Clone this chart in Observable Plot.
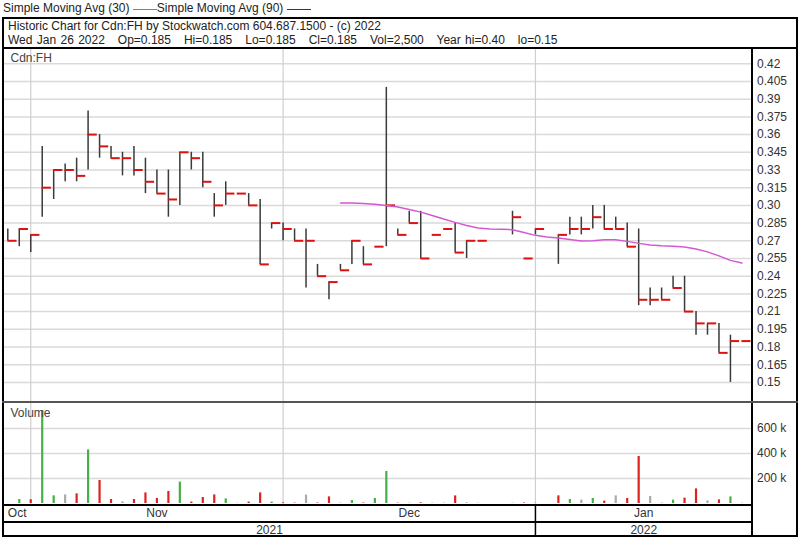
<!DOCTYPE html>
<html><head><meta charset="utf-8">
<script src="https://cdn.jsdelivr.net/npm/d3@7"></script>
<script src="https://cdn.jsdelivr.net/npm/@observablehq/plot@0.6"></script>
<style>
body{margin:0;background:#fff;font-family:"Liberation Sans",Arial,sans-serif;}
#wrap{position:relative;width:800px;height:541px;overflow:hidden;background:#fff;}
.hl{position:absolute;background:#000;}
.txt{position:absolute;font-size:12px;color:#222;white-space:pre;line-height:12px;}
.panel{position:absolute;left:0;}
.panel svg{display:block;}
</style></head><body>
<div id="wrap">
  <div class="txt" style="left:3px;top:2px;">Simple Moving Avg (30) <span style="display:inline-block;width:24px;height:0;border-top:1px solid #e040e0;vertical-align:2px;"></span>Simple Moving Avg (90) <span style="display:inline-block;width:24px;height:0;border-top:1px solid #2323c8;vertical-align:2px;"></span></div>
  <div class="txt" style="left:8px;top:20px;">Historic Chart for Cdn:FH by Stockwatch.com 604.687.1500 - (c) 2022</div>
  <div class="txt" style="left:8px;top:34px;word-spacing:1px;">Wed Jan 26 2022   Op=0.185   Hi=0.185   Lo=0.185   Cl=0.185   Vol=2,500   Year hi=0.40   lo=0.15</div>
  <div id="price" class="panel" style="top:47px;"></div>
  <div id="volume" class="panel" style="top:402px;"></div>
  <div id="timeline" class="panel" style="top:505px;"></div>
  <!-- frame -->
  <div style="position:absolute;left:2px;top:17px;width:796px;height:520px;border:2px solid #000;box-sizing:border-box;"></div>
  <div class="hl" style="left:2px;top:46.5px;width:796px;height:2px;"></div>
  <div class="hl" style="left:750.7px;top:47px;width:2px;height:490px;"></div>
  <div class="hl" style="left:2px;top:400.5px;width:796px;height:2.5px;background:#555;"></div>
  <div class="hl" style="left:2px;top:504.3px;width:750px;height:2px;"></div>
  <div class="hl" style="left:2px;top:520.7px;width:750px;height:2px;"></div>
</div>
<script>
// ---- data (one slot per trading day, Oct 28 2021 .. Jan 26 2022; null = no trade) ----
const highs = [0.28,0.28,0.275,0.35,0.33,0.335,0.34,0.38,0.36,0.35,
  0.345,0.35,0.34,0.33,0.33,0.345,0.345,0.345,0.31,0.32,
  0.31,0.31,0.305,0.285,0.285,0.28,0.28,0.25,0.235,0.25,
  0.27,0.265,0.265,0.40,0.28,0.295,0.295,0.275,0.28,0.285,
  0.27,0.27,null,null,0.295,0.255,0.28,null,0.275,0.29,
  0.29,0.30,0.30,0.29,0.285,0.28,0.23,0.23,0.24,0.24,
  0.21,0.20,0.20,0.19,0.185];
const lows = [0.27,0.265,0.26,0.29,0.305,0.32,0.32,0.33,0.34,0.34,
  0.325,0.325,0.31,0.31,0.29,0.30,0.33,0.315,0.29,0.30,
  0.31,0.30,0.25,0.28,0.27,0.27,0.23,0.24,0.22,0.245,
  0.25,0.25,0.265,0.265,0.275,0.285,0.255,0.275,0.28,0.26,
  0.255,0.27,null,null,0.275,0.255,0.275,null,0.25,0.275,
  0.275,0.28,0.28,0.28,0.265,0.215,0.215,0.22,0.23,0.21,
  0.19,0.19,0.175,0.15,0.185];
const closes = [0.27,0.28,0.275,0.315,0.33,0.33,0.325,0.36,0.35,0.34,
  0.34,0.33,0.32,0.31,0.305,0.345,0.34,0.32,0.30,0.31,
  0.31,0.30,0.25,0.285,0.28,0.27,0.27,0.24,0.235,0.245,
  0.27,0.25,0.265,0.30,0.275,0.285,0.255,0.275,0.28,0.26,
  0.27,0.27,null,null,0.29,0.255,0.28,null,0.275,0.28,
  0.28,0.29,0.28,0.28,0.265,0.22,0.22,0.22,0.23,0.21,
  0.20,0.20,0.175,0.185,0.185];
const volumes = [2000,32000,30000,744000,61000,69000,77000,429000,184000,32000,
  13000,32000,85000,40000,96000,171000,11000,48000,69000,37000,
  2000,11000,85000,11000,5000,3000,67000,4000,53000,2000,
  24000,4000,40000,256000,3000,2000,5000,2000,2000,61000,
  4000,2000,null,null,2000,4000,2000,null,61000,32000,
  27000,40000,19000,61000,40000,376000,56000,4000,27000,43000,
  117000,21000,29000,53000,2500];
// Simple moving average (30), from slot 29 to slot 64
const maStart = 29;
const ma30 = [0.302,0.302,0.3015,0.301,0.300,0.2987,0.2966,0.2943,0.2915,0.2885,
  0.2856,0.283,0.2809,0.280,0.2797,0.2794,0.2771,0.2746,0.2733,0.2723,
  0.271,0.2698,0.270,0.2708,0.2708,0.2695,0.2678,0.2665,0.2657,0.2653,
  0.2647,0.2631,0.2606,0.2572,0.2534,0.2511];
const priceTicks = [0.42,0.405,0.39,0.375,0.36,0.345,0.33,0.315,0.30,0.285,0.27,0.255,0.24,0.225,0.21,0.195,0.18,0.165,0.15];
const priceLabels = ["0.42","0.405","0.39","0.375","0.36","0.345","0.33","0.315","0.30","0.285","0.27","0.255","0.24","0.225","0.21","0.195","0.18","0.165","0.15"];
const volTicks = [600000,400000,200000];
const volLabels = ["600 k","400 k","200 k"];
const monthNames = ["Oct","Nov","Dec","Jan"];
const monthFirstSlot = [null,2,24,46];
const yearNames = ["2021","2022"];
const yearFirstSlot = [null,46];

// ---- build tables ----
const xDomain = [-0.375, 64.88];
const bars = [];
highs.forEach((h,i)=>{ if(h!=null) bars.push({i, hi:h, lo:lows[i], c:closes[i]}); });
const maData = ma30.map((v,k)=>({i:maStart+k, v}));
const priceAxis = priceTicks.map((v,k)=>({v, label:priceLabels[k]}));
const volAxis = volTicks.map((v,k)=>({v, label:volLabels[k]}));
const volBars = [];
let prev = null;
volumes.forEach((v,i)=>{
  if(v==null) return;
  const c = closes[i];
  const dir = prev==null ? 0 : (c>prev ? 1 : c<prev ? -1 : 0);
  volBars.push({i, v, dir});
  prev = c;
});
const bounds = monthFirstSlot.filter(d=>d!=null);
function spans(names, firsts){
  return names.map((n,k)=>{
    const a = firsts[k]==null ? xDomain[0] : firsts[k];
    const b = k+1<firsts.length ? firsts[k+1] : xDomain[1];
    return {label:n, mid:(a+b)/2};
  });
}
const monthSpans = spans(monthNames, monthFirstSlot);
const yearSpans = spans(yearNames, yearFirstSlot);
const baseStyle = {background:"transparent", fontFamily:"'Liberation Sans', Arial, sans-serif", fontSize:"12px", overflow:"visible"};
const common = {width:800, marginLeft:3, marginRight:48.5, marginTop:0, marginBottom:0, style:baseStyle};

const price = Plot.plot({
  ...common, height:354,
  x:{domain:xDomain, axis:null},
  y:{domain:[0.1338,0.4338], axis:null},
  marks:[
    Plot.ruleY(priceTicks,{stroke:"#dadada", strokeWidth:1.5}),
    Plot.ruleX(bounds,{stroke:"#cfcfcf", strokeWidth:1.2}),
    Plot.ruleX(bars,{x:"i", y1:"lo", y2:"hi", stroke:"#3a3a3a", strokeWidth:1.5}),
    Plot.ruleY(bars,{y:"c", x1:"i", x2:d=>d.i+0.8, stroke:"#dd1111", strokeWidth:2}),
    Plot.line(maData,{x:"i", y:"v", stroke:"#d458d4", strokeWidth:1.5}),
    Plot.text(priceAxis,{y:"v", text:"label", frameAnchor:"right", textAnchor:"start", dx:5, fill:"#333"}),
    Plot.text(["Cdn:FH"],{frameAnchor:"top-left", textAnchor:"start", lineAnchor:"middle", dx:7, dy:10.5, fill:"#444"})
  ]
});
document.getElementById("price").appendChild(price);

const volume = Plot.plot({
  ...common, height:103,
  x:{domain:xDomain, axis:null},
  y:{domain:[-16000,808000], axis:null},
  marks:[
    Plot.ruleY(volTicks,{stroke:"#dadada", strokeWidth:1.5}),
    Plot.ruleX(bounds,{stroke:"#cfcfcf", strokeWidth:1.2}),
    Plot.ruleX(volBars,{x:"i", y1:0, y2:"v", stroke:d=>d.dir>0?"#45b045":d.dir<0?"#dd2222":"#aaaaaa", strokeWidth:2.2}),
    Plot.text(volAxis,{y:"v", text:"label", frameAnchor:"right", textAnchor:"start", dx:5, fill:"#333"}),
    Plot.text(["Volume"],{frameAnchor:"top-left", textAnchor:"start", lineAnchor:"middle", dx:7, dy:11, fill:"#444"})
  ]
});
document.getElementById("volume").appendChild(volume);

const timeline = Plot.plot({
  ...common, height:32,
  x:{domain:xDomain, axis:null},
  marks:[
    Plot.ruleX([yearFirstSlot[1]],{stroke:"#000", strokeWidth:1.5}),
    Plot.text(monthSpans,{x:"mid", text:"label", frameAnchor:"top", lineAnchor:"middle", dy:8, fill:"#333"}),
    Plot.text(yearSpans,{x:"mid", text:"label", frameAnchor:"top", lineAnchor:"middle", dy:24.5, fill:"#333"})
  ]
});
document.getElementById("timeline").appendChild(timeline);
</script>
</body></html>
